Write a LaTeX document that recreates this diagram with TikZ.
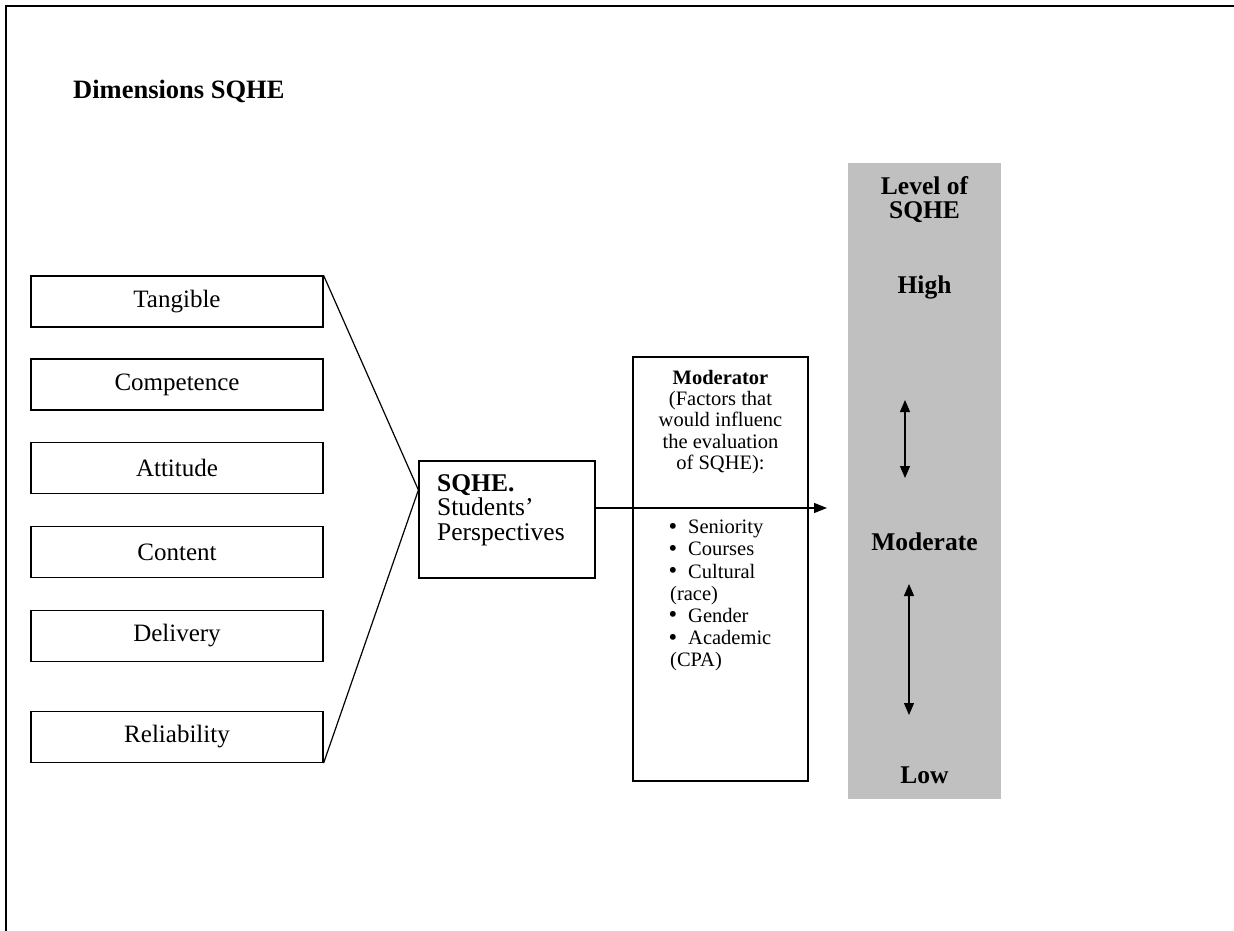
\documentclass[tikz,border=0pt]{standalone}
\usepackage{fontspec}
\usepackage{graphicx}
\setmainfont{Liberation Serif}
\usetikzlibrary{arrows.meta,calc}
\definecolor{levelgray}{RGB}{192,192,192}
\newcommand{\mybul}{\makebox[19.5pt][l]{\raisebox{-0.3pt}{\scalebox{1.2}{\textbullet}}}}
\tikzset{
  dimbox/.style={draw, line width=1.2pt, minimum width=292pt, minimum height=51pt, inner sep=0pt, font=\fontsize{25}{26}\selectfont},
  conn/.style={line width=1.2pt},
  tri/.style={-{Triangle[length=13pt,width=10pt]}},
  dtri/.style={{Triangle[length=12pt,width=10pt]}-{Triangle[length=12pt,width=10pt]}},
  lvl/.style={font=\fontsize{25.5}{24}\selectfont\bfseries, inner sep=0pt, align=center},
  plainbox/.style={draw, line width=1.2pt, inner sep=0pt},
}
\begin{document}
\begin{tikzpicture}[x=1pt,y=-1pt]
\useasboundingbox (0,0) rectangle (1234,931);
% frame
\draw[line width=2pt] (6,931) -- (6,6) -- (1234,6);
% title
\node[anchor=base west, font=\fontsize{26.5}{28}\selectfont\bfseries, inner sep=0pt] (title) at (73,99) {Dimensions SQHE};
% dimension boxes
\node[dimbox] (tang) at (177,301.5) {Tangible};
\node[dimbox] (comp) at (177,384.5) {Competence};
\node[dimbox] (att) at (177,468) {Attitude};
\node[dimbox] (cont) at (177,552) {Content};
\node[dimbox] (deliv) at (177,636) {Delivery};
\node[dimbox] (rel) at (177,737) {Reliability};
% SQHE box
\node[plainbox, minimum width=176pt, minimum height=117pt] (sqhe) at (507,519.5) {};
\node[anchor=north west, align=left, inner sep=0pt, font=\fontsize{25.5}{24.5}\selectfont] (sqhetext) at (437,474) {\textbf{SQHE.}\\Students’\\Perspectives};
\coordinate (conv) at ($(sqhe.west)+(0,-29.5)$);
\draw[conn] (tang.north east) -- (conv) -- (rel.south east);
% moderator box
\node[plainbox, minimum width=175pt, minimum height=424pt] (mod) at (720.5,569) {};
\node[anchor=north, align=center, inner sep=0pt, font=\fontsize{20.5}{21.2}\selectfont] (modhead) at (720.5,370) {\textbf{Moderator}\\(Factors that\\would influenc\\the evaluation\\of SQHE):};
\node[anchor=north west, align=left, inner sep=0pt, font=\fontsize{20.5}{22.2}\selectfont] (modlist) at (668.5,520) {%
\mybul Seniority\\
\mybul Courses\\
\mybul Cultural\\
\hspace*{1.5pt}(race)\\
\mybul Gender\\
\mybul Academic\\
\hspace*{1.5pt}(CPA)};
% main arrow
\coordinate (tip) at (827,508);
\draw[conn,tri] (sqhe.east |- tip) -- (tip);
% level column
\node[fill=levelgray, minimum width=153pt, minimum height=636pt, inner sep=0pt] (level) at (924.5,481) {};
\node[lvl, anchor=north] (lvltitle) at (924.5,176) {Level of\\SQHE};
\node[lvl, anchor=base] (high) at (924.5,293) {High};
\node[lvl, anchor=base] (moderate) at (924.5,550) {Moderate};
\node[lvl, anchor=base] (low) at (924.5,783) {Low};
\coordinate (a1t) at (905,400);
\coordinate (a1b) at (905,478);
\coordinate (a2t) at (909,584);
\coordinate (a2b) at (909,715);
\draw[conn,dtri] (a1t) -- (a1b);
\draw[conn,dtri] (a2t) -- (a2b);
\end{tikzpicture}
\end{document}
